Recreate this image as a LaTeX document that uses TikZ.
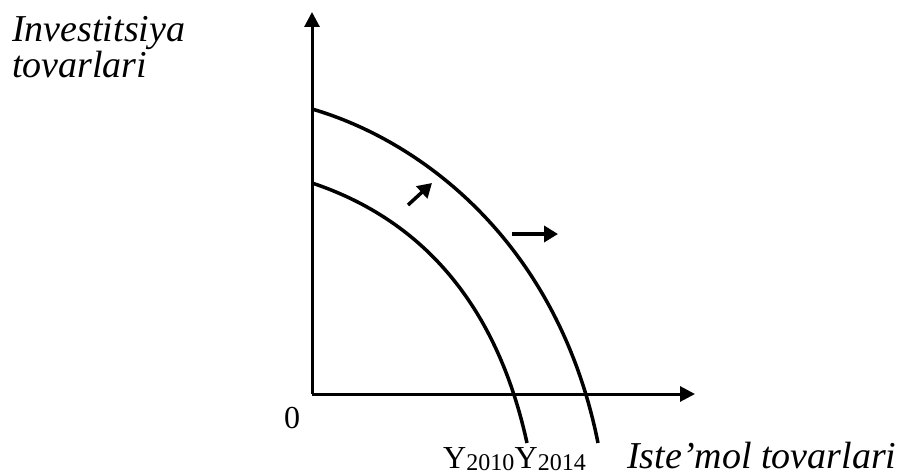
\documentclass[tikz,border=0pt]{standalone}
\usepackage{fontspec}
\setmainfont{Liberation Serif}
\usetikzlibrary{arrows.meta, positioning, calc}
\newcommand{\sub}[1]{\raisebox{-2pt}{\fontsize{24}{24}\selectfont #1}}

\begin{document}
\begin{tikzpicture}[x=1pt, y=1pt,
    axis/.style={line width=3pt, -{Triangle[length=15pt, width=15pt]}},
    ppf/.style={line width=3.5pt},
    shiftarrow/.style={line width=3.5pt, -{Triangle[length=14pt, width=16pt]}},
    lbl/.style={font=\fontsize{38}{42}\selectfont\itshape, inner sep=0pt, anchor=base west},
    num/.style={font=\fontsize{32}{36}\selectfont, inner sep=0pt}]
  \useasboundingbox (0,0) rectangle (907,475);
  % axes
  \coordinate (O) at (312,81);
  \coordinate (ytip) at (312,463);
  \coordinate (xtip) at (695,81);
  \draw[axis] (O) -- (ytip);
  \draw[axis] (O) -- (xtip);
  % production possibility curves
  \coordinate (in0) at (312,292);
  \coordinate (in1) at (527,32);
  \coordinate (out0) at (312,366);
  \coordinate (out1) at (598,32);
  \draw[ppf] (in0) .. controls (402,262) and (492,192) .. (in1);
  \draw[ppf] (out0) .. controls (422,334) and (558,232) .. (out1);
  % shift arrows
  \coordinate (d0) at (408,270);
  \coordinate (d1) at (432,292);
  \coordinate (h0) at (512,241);
  \coordinate (h1) at (558,241);
  \draw[shiftarrow] (d0) -- (d1);
  \draw[shiftarrow] (h0) -- (h1);
  % labels
  \node[lbl] (invest) at (12,433) {Investitsiya};
  \node[lbl] (tovar) at (12,397) {tovarlari};
  \node[num, anchor=base] (zero) at (292,47) {0};
  \node[num, anchor=base west] (y2010) at (443,7) {Y\sub{2010}};
  \node[num, anchor=base west] (y2014) at (y2010.base east) {Y\sub{2014}};
  \node[lbl] (iste) at (627,7) {Iste’mol tovarlari};
\end{tikzpicture}
\end{document}
